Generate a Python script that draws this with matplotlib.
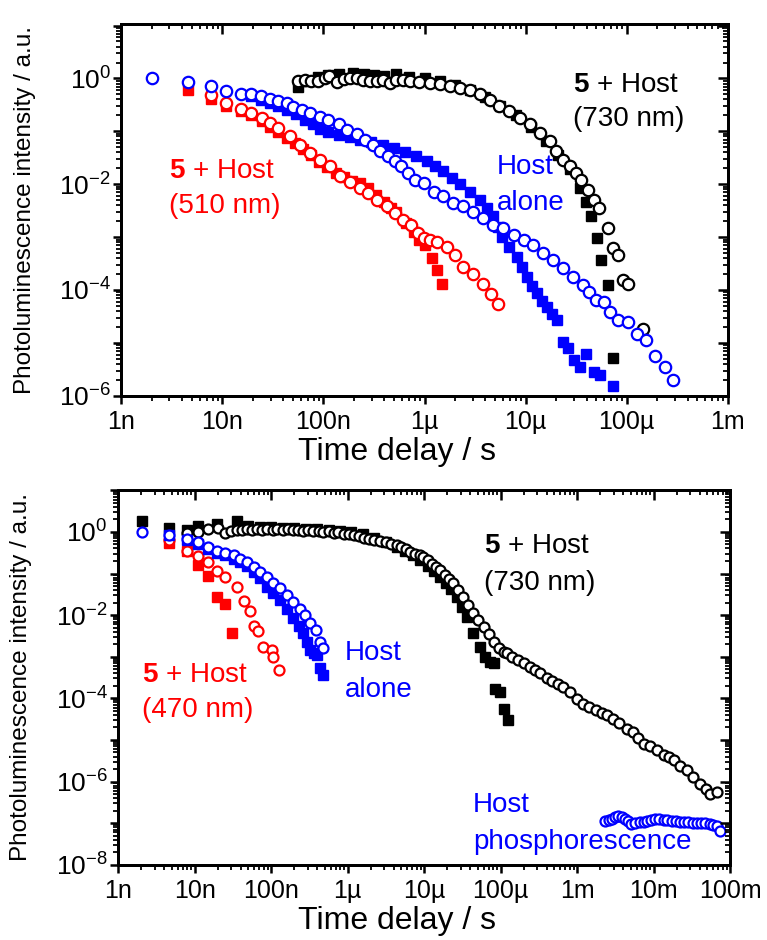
import numpy as np
import matplotlib
matplotlib.use('Agg')
import matplotlib.pyplot as plt
from matplotlib.ticker import LogLocator, FuncFormatter, NullFormatter

plt.rcParams['font.family'] = ['Liberation Sans', 'DejaVu Sans']
plt.rcParams['mathtext.fontset'] = 'custom'
plt.rcParams['mathtext.rm'] = 'Liberation Sans'
plt.rcParams['mathtext.it'] = 'Liberation Sans:italic'
plt.rcParams['mathtext.bf'] = 'Liberation Sans:bold'

# --- data, log10(time / s) and log10(intensity) ---
# top panel (510 nm / 730 nm)
top_black_sq_lt = [-7.25,-7.15,-7.05,-6.95,-6.85,-6.71,-6.60,-6.50,-6.40,-6.28,-6.15,-6.00,-5.85,-5.70,-5.55,
                   -5.40,-5.25,-5.10,-4.95,-4.80,-4.68,-4.56,-4.46,-4.40,-4.35,-4.29,-4.25,-4.19,-4.14]
top_black_sq_li = [-0.16,-0.05,0.02,0.06,0.08,0.11,0.08,0.06,0.05,0.08,0.03,0.0,-0.05,-0.12,-0.22,
                   -0.35,-0.52,-0.70,-0.92,-1.18,-1.45,-1.72,-2.07,-2.33,-2.61,-3.02,-3.43,-3.91,-5.29]
top_black_ci_lt = [-7.25,-7.18,-7.12,-7.05,-6.98,-6.94,-6.87,-6.80,-6.74,-6.67,-6.61,-6.54,-6.47,-6.41,-6.34,-6.28,-6.21,
                   -6.14,-6.05,-5.95,-5.85,-5.75,-5.65,-5.55,-5.45,-5.35,-5.26,-5.16,-5.06,-4.96,-4.86,-4.76,-4.70,
                   -4.63,-4.56,-4.50,-4.45,-4.38,-4.32,-4.27,-4.19,-4.14,-4.09,-4.04,-3.99,-3.84]
top_black_ci_li = [-0.04,-0.02,-0.04,-0.05,0.01,0.04,-0.07,-0.01,0.0,0.01,-0.02,-0.04,-0.05,-0.02,-0.09,-0.02,-0.03,
                   -0.05,-0.07,-0.08,-0.11,-0.15,-0.18,-0.22,-0.30,-0.40,-0.53,-0.62,-0.75,-0.87,-1.03,-1.19,-1.38,
                   -1.54,-1.66,-1.79,-1.92,-2.11,-2.30,-2.45,-2.83,-3.21,-3.34,-3.81,-3.88,-4.73]
top_red_sq_lt = [-8.34,-8.11,-7.96,-7.82,-7.72,-7.61,-7.53,-7.45,-7.36,-7.28,-7.20,-7.12,-7.04,-6.96,-6.88,
                 -6.80,-6.72,-6.64,-6.56,-6.48,-6.40,-6.33,-6.28,-6.18,-6.10,-6.05,-6.00,-5.93,-5.88,-5.83]
top_red_sq_li = [-0.21,-0.38,-0.52,-0.62,-0.70,-0.81,-0.92,-1.02,-1.12,-1.22,-1.33,-1.45,-1.58,-1.68,-1.78,
                 -1.86,-1.93,-1.98,-2.08,-2.20,-2.33,-2.45,-2.52,-2.74,-2.90,-3.06,-3.15,-3.40,-3.62,-3.88]
top_red_ci_lt = [-8.11,-7.96,-7.82,-7.72,-7.61,-7.53,-7.45,-7.33,-7.23,-7.13,-7.03,-6.93,-6.84,-6.74,-6.64,-6.56,
                 -6.47,-6.37,-6.29,-6.21,-6.13,-6.06,-6.01,-5.95,-5.88,-5.78,-5.70,-5.62,-5.52,-5.42,-5.34,-5.27]
top_red_ci_li = [-0.32,-0.46,-0.57,-0.65,-0.75,-0.85,-0.94,-1.09,-1.25,-1.41,-1.54,-1.66,-1.85,-1.95,-2.07,-2.17,
                 -2.30,-2.42,-2.55,-2.68,-2.77,-2.93,-3.02,-3.05,-3.09,-3.18,-3.34,-3.56,-3.69,-3.88,-4.07,-4.26]
top_blue_sq_lt = [-7.72,-7.62,-7.53,-7.45,-7.36,-7.27,-7.18,-7.10,-7.03,-6.95,-6.85,-6.74,-6.64,-6.53,-6.41,-6.30,
                  -6.19,-6.08,-5.98,-5.90,-5.82,-5.73,-5.65,-5.55,-5.45,-5.38,-5.32,-5.27,-5.23,-5.16,-5.09,-5.04,
                  -4.99,-4.94,-4.89,-4.84,-4.79,-4.74,-4.69,-4.63,-4.58,-4.52,-4.46,-4.40,-4.32,-4.26,-4.14]
top_blue_sq_li = [-0.33,-0.40,-0.46,-0.52,-0.60,-0.68,-0.78,-0.87,-0.95,-1.01,-1.07,-1.10,-1.16,-1.21,-1.26,-1.32,
                  -1.40,-1.47,-1.56,-1.65,-1.75,-1.88,-2.00,-2.15,-2.30,-2.45,-2.61,-2.80,-2.99,-3.18,-3.37,-3.56,
                  -3.75,-3.92,-4.06,-4.20,-4.32,-4.45,-4.57,-4.98,-5.10,-5.33,-5.45,-5.22,-5.56,-5.60,-5.81]
top_blue_ci_lt = [-8.70,-8.34,-8.11,-7.96,-7.82,-7.72,-7.62,-7.53,-7.45,-7.36,-7.30,-7.21,-7.13,-7.03,-6.95,-6.85,
                  -6.77,-6.67,-6.59,-6.51,-6.44,-6.36,-6.29,-6.23,-6.16,-6.09,-6.01,-5.91,-5.82,-5.72,-5.62,-5.52,
                  -5.42,-5.32,-5.22,-5.12,-5.02,-4.93,-4.83,-4.73,-4.63,-4.53,-4.43,-4.37,-4.30,-4.23,-4.17,-4.09,
                  -3.99,-3.90,-3.81,-3.72,-3.62,-3.54]
top_blue_ci_li = [0.0,-0.07,-0.15,-0.24,-0.30,-0.29,-0.34,-0.39,-0.43,-0.47,-0.54,-0.59,-0.65,-0.72,-0.79,-0.87,
                  -0.97,-1.06,-1.16,-1.25,-1.38,-1.47,-1.57,-1.66,-1.79,-1.92,-1.98,-2.14,-2.23,-2.36,-2.42,-2.52,
                  -2.64,-2.77,-2.83,-2.96,-3.06,-3.15,-3.31,-3.43,-3.59,-3.75,-3.91,-4.04,-4.19,-4.23,-4.42,-4.57,
                  -4.61,-4.83,-4.95,-5.24,-5.46,-5.71]

# bottom panel (470 nm / 730 nm)
bot_black_sq_lt = [-8.69,-8.33,-8.10,-7.95,-7.71,-7.45,-7.30,-7.15,-7.00,-6.85,-6.70,-6.55,-6.40,-6.25,-6.10,
                   -5.95,-5.80,-5.65,-5.50,-5.35,-5.25,-5.14,-5.05,-4.95,-4.87,-4.79,-4.72,-4.65,-4.57,-4.50,
                   -4.44,-4.36,-4.27,-4.20,-4.14,-4.09,-4.07,-4.01,-3.96,-3.91]
bot_black_sq_li = [0.25,0.09,0.05,0.13,0.19,0.25,0.14,0.12,0.11,0.10,0.09,0.08,0.07,0.05,0.03,
                   0.0,-0.06,-0.14,-0.24,-0.36,-0.45,-0.55,-0.68,-0.82,-0.95,-1.08,-1.22,-1.38,-1.56,-1.80,
                   -2.04,-2.44,-2.76,-3.00,-3.13,-3.16,-3.77,-3.85,-4.25,-4.53]
bot_black_ci_lt = [-8.10,-7.95,-7.82,-7.69,-7.60,-7.52,-7.45,-7.38,-7.32,-7.25,-7.18,-7.12,-7.05,-6.98,-6.92,-6.85,
                   -6.78,-6.72,-6.65,-6.58,-6.52,-6.45,-6.38,-6.32,-6.25,-6.18,-6.12,-6.05,-5.98,-5.92,-5.85,-5.79,
                   -5.72,-5.65,-5.58,-5.50,-5.43,-5.36,-5.30,-5.24,-5.18,-5.12,-5.06,-5.01,-4.95,-4.90,-4.84,-4.79,
                   -4.73,-4.67,-4.62,-4.56,-4.49,-4.43,-4.36,-4.29,-4.22,-4.15,-4.09,-4.02,-3.96,-3.92,-3.85,-3.77,
                   -3.70,-3.62,-3.55,-3.48,-3.40,-3.33,-3.25,-3.18,-3.10,-3.00,-2.92,-2.84,-2.76,-2.68,-2.61,-2.53,
                   -2.45,-2.35,-2.27,-2.20,-2.13,-2.05,-1.96,-1.87,-1.80,-1.74,-1.65,-1.57,-1.48,-1.39,-1.32,-1.26,-1.17]
bot_black_ci_li = [-0.03,0.0,0.07,0.09,-0.03,0.02,0.05,0.04,0.07,0.05,0.06,0.04,0.07,0.05,0.06,0.05,
                   0.06,0.04,0.05,0.03,0.04,0.02,0.03,0.0,0.01,-0.02,-0.01,-0.04,-0.05,-0.07,-0.10,-0.15,
                   -0.17,-0.20,-0.22,-0.25,-0.28,-0.31,-0.36,-0.42,-0.48,-0.54,-0.55,-0.60,-0.68,-0.76,-0.84,-0.92,
                   -1.03,-1.13,-1.24,-1.40,-1.56,-1.75,-1.96,-2.12,-2.28,-2.46,-2.64,-2.78,-2.88,-2.92,-3.00,-3.08,
                   -3.16,-3.24,-3.32,-3.40,-3.50,-3.58,-3.65,-3.73,-3.85,-4.02,-4.13,-4.20,-4.28,-4.35,-4.41,-4.50,
                   -4.60,-4.73,-4.82,-4.95,-5.09,-5.15,-5.25,-5.37,-5.42,-5.49,-5.62,-5.73,-5.90,-6.06,-6.18,-6.30,-6.26]
bot_red_sq_lt = [-8.33,-8.10,-7.95,-7.82,-7.71,-7.60,-7.51]
bot_red_sq_li = [-0.26,-0.45,-0.80,-1.06,-1.57,-1.73,-2.42]
bot_red_ci_lt = [-8.33,-8.10,-7.95,-7.82,-7.71,-7.60,-7.45,-7.36,-7.27,-7.23,-7.17,-7.10,-6.99,-6.97,-6.90]
bot_red_ci_li = [-0.19,-0.45,-0.59,-0.73,-0.93,-1.09,-1.33,-1.65,-1.90,-2.27,-2.38,-2.76,-2.84,-3.00,-3.33]
bot_blue_sq_lt = [-8.33,-8.10,-7.95,-7.82,-7.71,-7.60,-7.49,-7.41,-7.32,-7.23,-7.14,-7.06,-6.97,-6.88,-6.79,-6.71,
                  -6.64,-6.58,-6.53,-6.49,-6.44,-6.40,-6.36,-6.32]
bot_blue_sq_li = [-0.08,-0.20,-0.28,-0.40,-0.50,-0.56,-0.64,-0.72,-0.82,-0.96,-1.12,-1.32,-1.48,-1.64,-1.86,-2.08,
                  -2.26,-2.44,-2.64,-2.84,-2.90,-2.96,-3.28,-3.45]
bot_blue_ci_lt = [-8.69,-8.33,-8.10,-7.95,-7.82,-7.71,-7.60,-7.49,-7.41,-7.32,-7.23,-7.14,-7.06,-6.97,-6.88,-6.79,
                  -6.71,-6.62,-6.56,-6.49,-6.42,-6.36,-6.32]
bot_blue_ci_li = [0.0,-0.07,-0.18,-0.25,-0.37,-0.47,-0.50,-0.55,-0.66,-0.73,-0.84,-0.96,-1.08,-1.24,-1.36,-1.52,
                  -1.68,-1.85,-2.00,-2.20,-2.36,-2.64,-2.80]
bot_phos_lt = [-2.63,-2.59,-2.55,-2.50,-2.46,-2.42,-2.37,-2.33,-2.29,-2.24,-2.18,-2.13,-2.09,-2.04,-1.98,-1.93,
               -1.87,-1.82,-1.76,-1.71,-1.65,-1.60,-1.55,-1.49,-1.44,-1.38,-1.33,-1.27,-1.22,-1.17,-1.13]
bot_phos_li = [-6.94,-6.92,-6.90,-6.86,-6.82,-6.86,-6.90,-6.95,-7.02,-7.00,-6.98,-6.96,-6.94,-6.92,-6.90,-6.91,
               -6.92,-6.93,-6.94,-6.95,-6.96,-6.97,-6.98,-6.99,-7.00,-7.00,-7.00,-7.02,-7.04,-7.06,-7.18]

x_prefix = {-9: '1n', -8: '10n', -7: '100n', -6: '1µ', -5: '10µ', -4: '100µ',
            -3: '1m', -2: '10m', -1: '100m'}


def xfmt(v, pos):
    return x_prefix.get(int(round(np.log10(v))), '')


def yfmt(v, pos):
    e = int(round(np.log10(v)))
    if e % 2:
        return ''
    return r'$10^{%d}$' % e


def set_log_ticks(axis):
    axis.set_major_locator(LogLocator(base=10, numticks=30))
    axis.set_minor_locator(LogLocator(base=10, subs=np.arange(2, 10), numticks=30))


def style(ax, xlim, ylim):
    ax.set_xscale('log')
    ax.set_yscale('log')
    ax.set_xlim(*xlim)
    ax.set_ylim(*ylim)
    set_log_ticks(ax.xaxis)
    set_log_ticks(ax.yaxis)
    ax.xaxis.set_major_formatter(FuncFormatter(xfmt))
    ax.yaxis.set_major_formatter(FuncFormatter(yfmt))
    ax.xaxis.set_minor_formatter(NullFormatter())
    ax.yaxis.set_minor_formatter(NullFormatter())
    ax.tick_params(which='both', direction='out', top=False, right=False)
    ax.tick_params(which='major', length=6, width=1.8)
    ax.tick_params(which='minor', length=3.4, width=1.3)
    ax.tick_params(axis='x', which='major', pad=4, labelsize=18)
    ax.tick_params(axis='y', which='major', pad=1.5, labelsize=19)
    for sp in ax.spines.values():
        sp.set_linewidth(2)
    # mirror ticks pointing inwards on top and right
    axt = ax.twiny()
    axt.set_xscale('log')
    axt.set_xlim(*xlim)
    set_log_ticks(axt.xaxis)
    axt.tick_params(axis='x', which='both', direction='in', top=True, bottom=False, labeltop=False)
    axt.tick_params(axis='x', which='major', length=7, width=1.8)
    axt.tick_params(axis='x', which='minor', length=3.6, width=1.3)
    axr = ax.twinx()
    axr.set_yscale('log')
    axr.set_ylim(*ylim)
    set_log_ticks(axr.yaxis)
    axr.tick_params(axis='y', which='both', direction='in', right=True, left=False, labelright=False)
    axr.tick_params(axis='y', which='major', length=7, width=1.8)
    axr.tick_params(axis='y', which='minor', length=3.6, width=1.3)
    for a in (axt, axr):
        for sp in a.spines.values():
            sp.set_linewidth(2)


def squares(ax, lt, li, c, ms):
    ax.plot(10 ** np.array(lt), 10 ** np.array(li), ls='none', marker='s', ms=ms, color=c, mec=c)


def circles(ax, lt, li, c, ms):
    ax.plot(10 ** np.array(lt), 10 ** np.array(li), ls='none', marker='o', ms=ms, mfc='white', mec=c, mew=1.6)


fig = plt.figure(figsize=(7.67, 9.40), dpi=100)
ax1 = fig.add_axes([0.158, 0.579, 0.791, 0.395])
ax2 = fig.add_axes([0.154, 0.080, 0.798, 0.399])

# top panel
squares(ax1, top_black_sq_lt, top_black_sq_li, 'black', 7)
circles(ax1, top_black_ci_lt, top_black_ci_li, 'black', 8.2)
squares(ax1, top_red_sq_lt, top_red_sq_li, 'red', 7)
circles(ax1, top_red_ci_lt, top_red_ci_li, 'red', 8.2)
squares(ax1, top_blue_sq_lt, top_blue_sq_li, 'blue', 7)
circles(ax1, top_blue_ci_lt, top_blue_ci_li, 'blue', 8.2)

# bottom panel
squares(ax2, bot_black_sq_lt, bot_black_sq_li, 'black', 6.8)
circles(ax2, bot_black_ci_lt, bot_black_ci_li, 'black', 7.2)
squares(ax2, bot_red_sq_lt, bot_red_sq_li, 'red', 6.8)
circles(ax2, bot_red_ci_lt, bot_red_ci_li, 'red', 7.2)
squares(ax2, bot_blue_sq_lt, bot_blue_sq_li, 'blue', 6.8)
circles(ax2, bot_blue_ci_lt, bot_blue_ci_li, 'blue', 7.2)
circles(ax2, bot_phos_lt, bot_phos_li, 'blue', 7.2)

for ax, xl, yl, off in ((ax1, (1e-9, 1e-3), (1e-6, 10.5), -0.111), (ax2, (1e-9, 1e-1), (1e-8, 10.3), -0.11)):
    ax.set_xlabel('Time delay / s', fontsize=23)
    ax.set_ylabel('Photoluminescence intensity / a.u.', fontsize=17.5)
    ax.xaxis.set_label_coords(0.455, off)
    ax.yaxis.set_label_coords(-0.14, 0.5)
    style(ax, xl, yl)

fs = 20
ax1.text(0.745, 0.838, r'$\mathbf{5}$ + Host', color='black', fontsize=fs, transform=ax1.transAxes, va='center')
ax1.text(0.745, 0.744, '(730 nm)', color='black', fontsize=fs, transform=ax1.transAxes, va='center')
ax1.text(0.619, 0.617, 'Host', color='blue', fontsize=fs, transform=ax1.transAxes, va='center')
ax1.text(0.619, 0.520, 'alone', color='blue', fontsize=fs, transform=ax1.transAxes, va='center')
ax1.text(0.078, 0.605, r'$\mathbf{5}$ + Host', color='red', fontsize=fs, transform=ax1.transAxes, va='center')
ax1.text(0.078, 0.510, '(510 nm)', color='red', fontsize=fs, transform=ax1.transAxes, va='center')

ax2.text(0.597, 0.849, r'$\mathbf{5}$ + Host', color='black', fontsize=fs, transform=ax2.transAxes, va='center')
ax2.text(0.597, 0.751, '(730 nm)', color='black', fontsize=fs, transform=ax2.transAxes, va='center')
ax2.text(0.371, 0.565, 'Host', color='blue', fontsize=fs, transform=ax2.transAxes, va='center')
ax2.text(0.371, 0.467, 'alone', color='blue', fontsize=fs, transform=ax2.transAxes, va='center')
ax2.text(0.039, 0.507, r'$\mathbf{5}$ + Host', color='red', fontsize=fs, transform=ax2.transAxes, va='center')
ax2.text(0.039, 0.413, '(470 nm)', color='red', fontsize=fs, transform=ax2.transAxes, va='center')
ax2.text(0.580, 0.160, 'Host', color='blue', fontsize=fs, transform=ax2.transAxes, va='center')
ax2.text(0.580, 0.062, 'phosphorescence', color='blue', fontsize=fs, transform=ax2.transAxes, va='center')

fig.savefig('out.png', dpi=100)
